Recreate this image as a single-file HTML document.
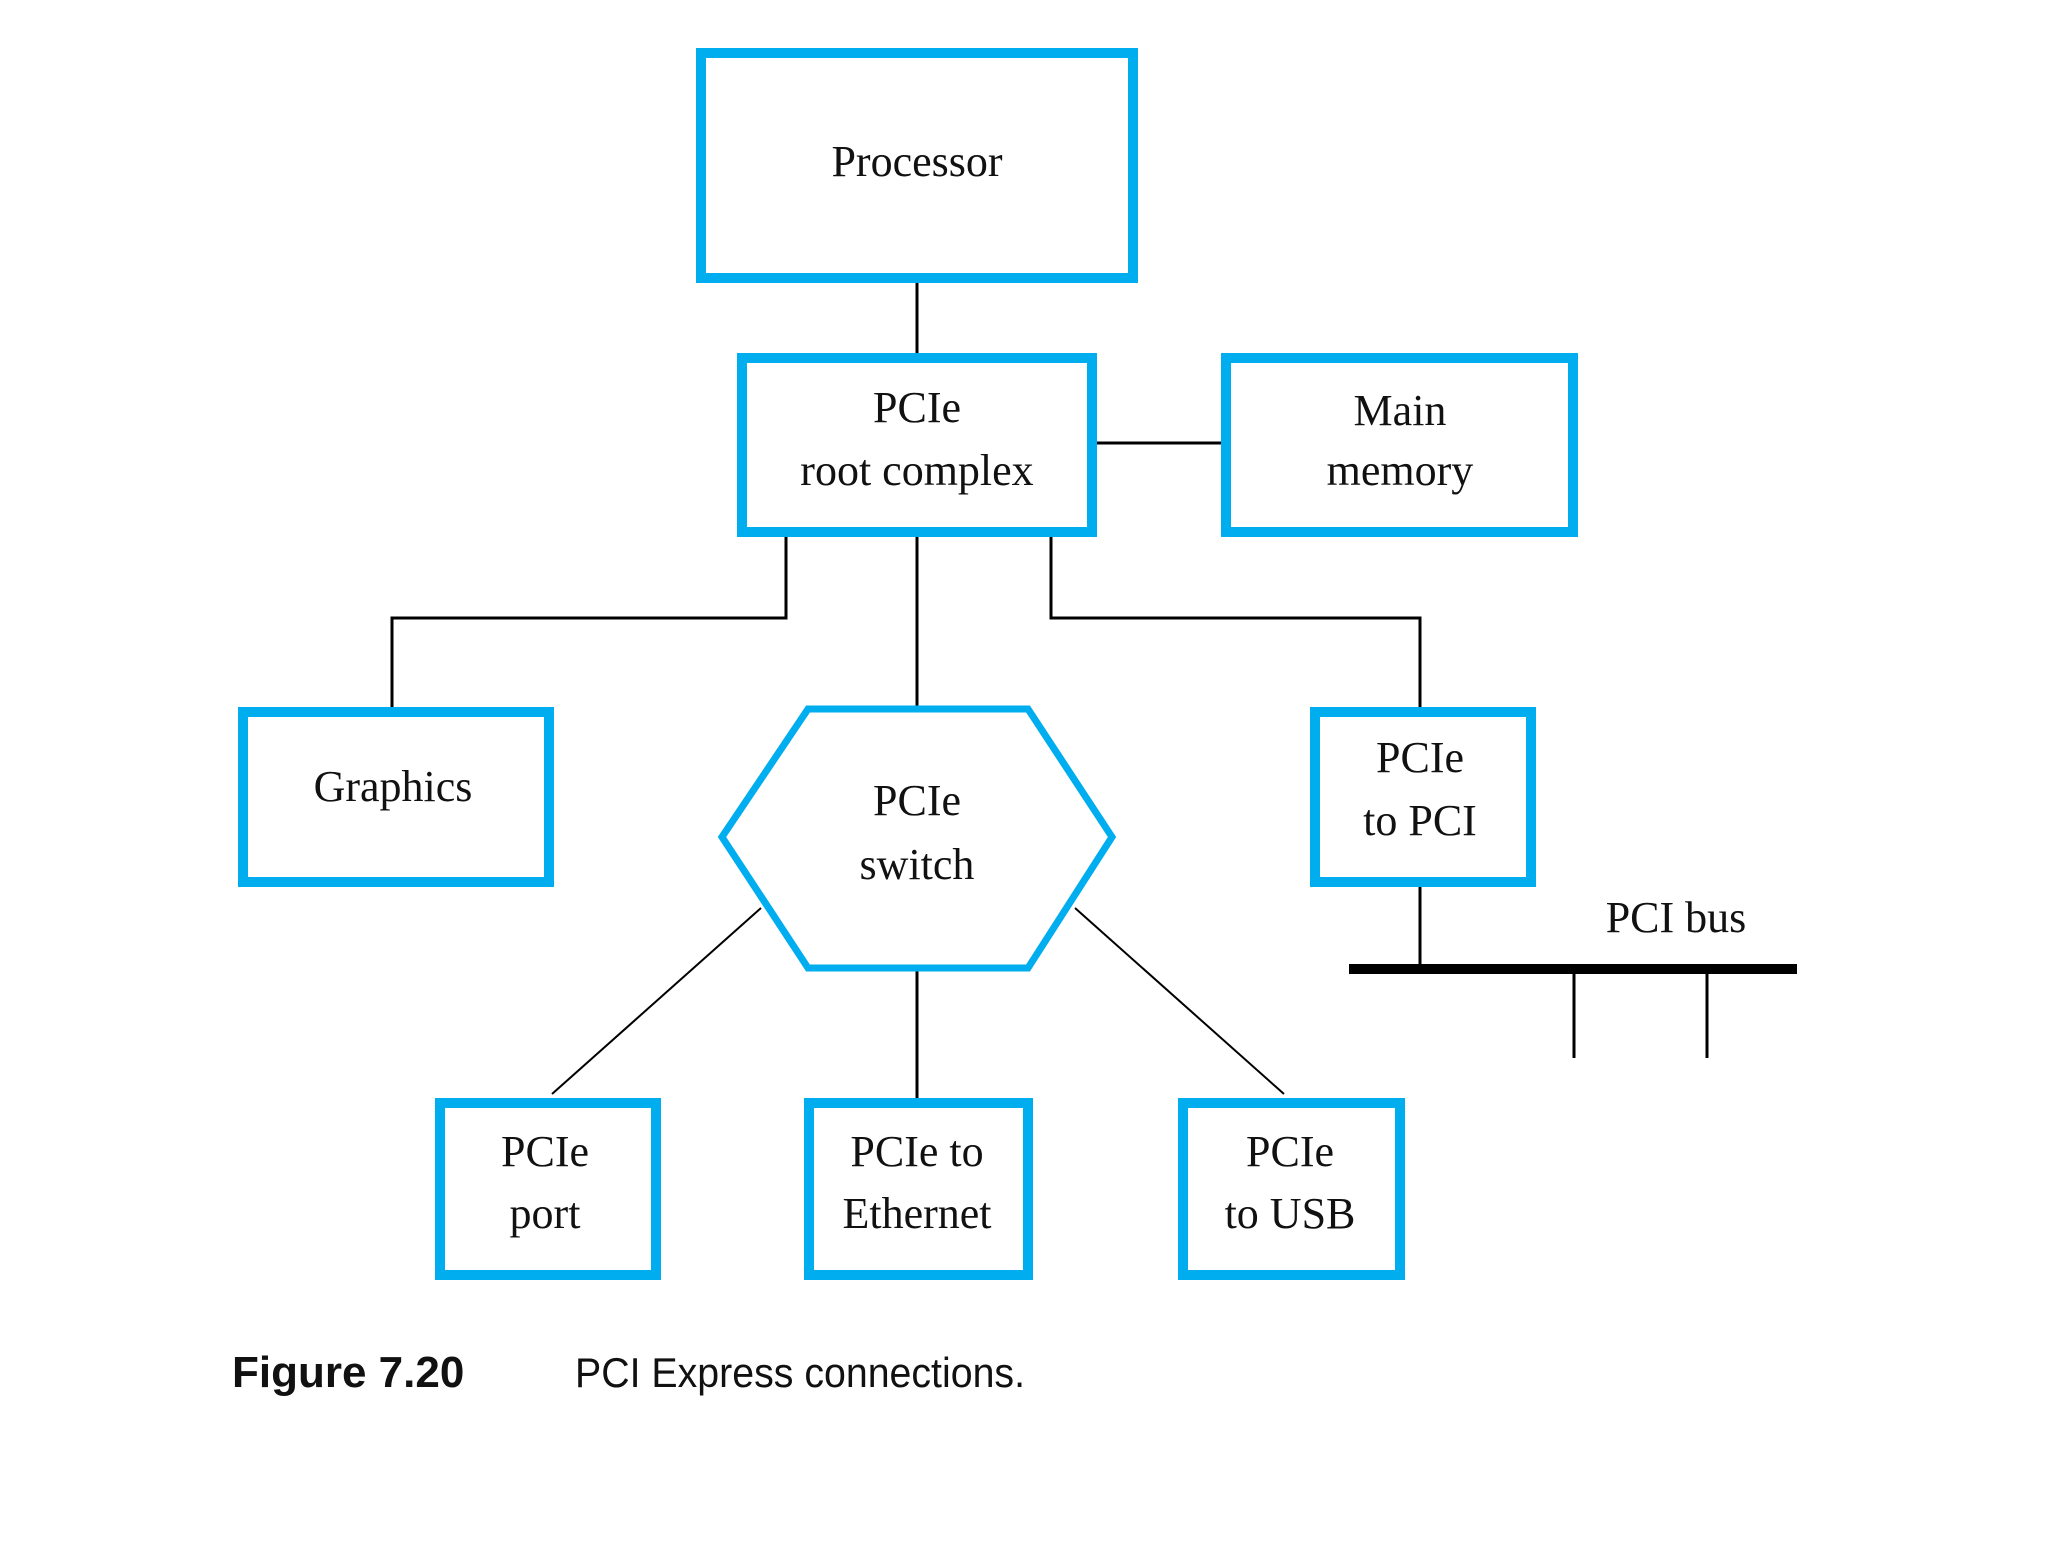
<!DOCTYPE html>
<html><head><meta charset="utf-8"><style>html,body{margin:0;padding:0;background:#fff}</style></head>
<body>
<svg width="2048" height="1536" viewBox="0 0 2048 1536" xmlns="http://www.w3.org/2000/svg">
<rect width="2048" height="1536" fill="#fff"/>
<g stroke="#000" stroke-width="3" fill="none">
<line x1="917" y1="283" x2="917" y2="357"/>
<line x1="1093" y1="443" x2="1221" y2="443"/>
<polyline points="786,533 786,618 392,618 392,707"/>
<line x1="917" y1="533" x2="917" y2="707"/>
<polyline points="1051,533 1051,618 1420,618 1420,707"/>
<line x1="761" y1="908" x2="552" y2="1094" stroke-width="2"/>
<line x1="917" y1="970" x2="917" y2="1098"/>
<line x1="1075" y1="908" x2="1284" y2="1094" stroke-width="2"/>
<line x1="1420" y1="883" x2="1420" y2="969"/>
<line x1="1349" y1="969" x2="1797" y2="969" stroke-width="10"/>
<line x1="1574" y1="969" x2="1574" y2="1058"/>
<line x1="1707" y1="969" x2="1707" y2="1058"/>
</g>
<g stroke="#00AEEF" stroke-width="10" fill="#fff">
<rect x="701" y="53" width="432" height="225"/>
<rect x="742" y="358" width="350" height="174"/>
<rect x="1226" y="358" width="347" height="174"/>
<rect x="243" y="712" width="306" height="170"/>
<rect x="1315" y="712" width="216" height="170"/>
<rect x="440" y="1103" width="216" height="172"/>
<rect x="809" y="1103" width="219" height="172"/>
<rect x="1183" y="1103" width="217" height="172"/>
<polygon points="722,837 808,709 1028,709 1112,837 1028,968 808,968" stroke-width="7"/>
</g>
<g font-family="Liberation Serif, serif" font-size="44" fill="#111" text-anchor="middle">
<text x="917" y="176">Processor</text>
<text x="917" y="422">PCIe</text>
<text x="917" y="485">root complex</text>
<text x="1400" y="425">Main</text>
<text x="1400" y="485">memory</text>
<text x="393" y="801">Graphics</text>
<text x="917" y="815">PCIe</text>
<text x="917" y="879">switch</text>
<text x="1420" y="772">PCIe</text>
<text x="1420" y="835">to PCI</text>
<text x="1676" y="932">PCI bus</text>
<text x="545" y="1166">PCIe</text>
<text x="545" y="1228">port</text>
<text x="917" y="1166">PCIe to</text>
<text x="917" y="1228">Ethernet</text>
<text x="1290" y="1166">PCIe</text>
<text x="1290" y="1228">to USB</text>
</g>
<text x="232" y="1387" font-family="Liberation Sans, sans-serif" font-weight="bold" font-size="44" fill="#111">Figure 7.20</text>
<text x="575" y="1387" font-family="Liberation Sans, sans-serif" font-size="42" fill="#111" textLength="450" lengthAdjust="spacingAndGlyphs">PCI Express connections.</text>
</svg>
</body></html>
